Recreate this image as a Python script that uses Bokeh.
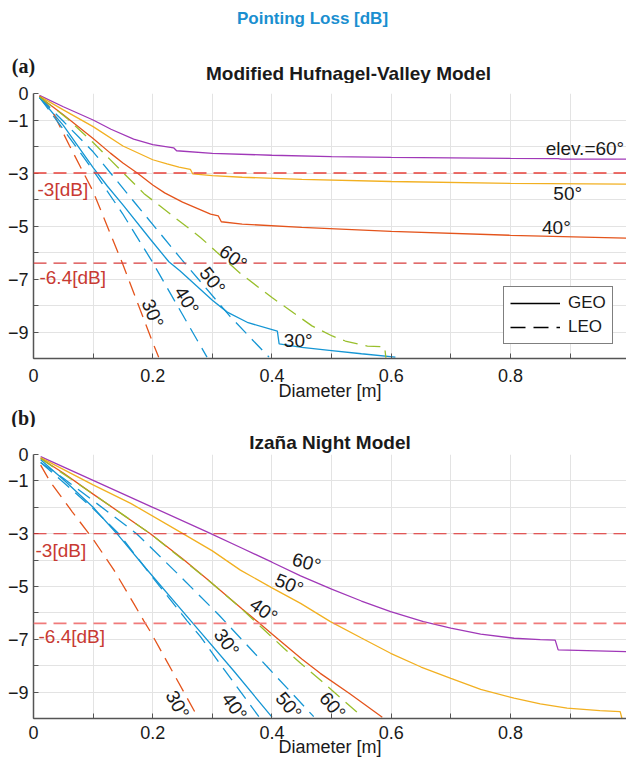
from bokeh.plotting import figure
from bokeh.models import Range1d, FixedTicker, Span, Label, Legend, LegendItem
from bokeh.layouts import column
from bokeh.embed import file_html
from bokeh.resources import INLINE

FONT = "Liberation Sans"
NAN = float("nan")

# ---------------- data: (a) Modified Hufnagel-Valley ----------------
hv_geo60_x = [0.01, 0.05, 0.10, 0.13, 0.168, 0.20, 0.235, 0.24, 0.30, 0.40, 0.50, 0.60, 0.70, 0.80, 0.88, 0.885, 0.995]
hv_geo60_y = [-0.07, -0.50, -1.00, -1.35, -1.72, -1.93, -2.05, -2.16, -2.26, -2.33, -2.38, -2.41, -2.43, -2.45, -2.46, -2.48, -2.48]
hv_geo50_x = [0.01, 0.05, 0.10, 0.15, 0.20, 0.224, 0.244, 0.263, 0.267, 0.30, 0.35, 0.45, 0.60, 0.80, 0.995]
hv_geo50_y = [-0.10, -0.62, -1.25, -1.98, -2.50, -2.66, -2.78, -2.86, -3.03, -3.10, -3.16, -3.24, -3.32, -3.39, -3.42]
hv_geo40_x = [0.01, 0.05, 0.10, 0.129, 0.15, 0.174, 0.20, 0.22, 0.25, 0.297, 0.31, 0.315, 0.35, 0.45, 0.60, 0.80, 0.995]
hv_geo40_y = [-0.12, -0.80, -1.70, -2.25, -2.62, -3.00, -3.45, -3.75, -4.10, -4.55, -4.62, -4.84, -4.93, -5.05, -5.20, -5.35, -5.46]
hv_geo30_x = [0.01, 0.05, 0.10, 0.124, 0.15, 0.196, 0.227, 0.246, 0.30, 0.325, 0.36, 0.409, 0.412, 0.45, 0.50, 0.55, 0.607]
hv_geo30_y = [-0.15, -1.20, -2.80, -3.50, -4.20, -5.50, -6.35, -6.70, -7.80, -8.25, -8.65, -8.97, -9.45, -9.58, -9.70, -9.82, -9.95]
hv_leo30_x = [0.01, 0.03, 0.06, 0.10, 0.149, 0.20, 0.21]
hv_leo30_y = [-0.10, -0.60, -1.95, -3.70, -6.40, -9.40, -9.95]
hv_leo40_x = [0.01, 0.05, 0.10, 0.149, 0.199, 0.258, 0.291]
hv_leo40_y = [-0.15, -1.35, -2.90, -4.52, -6.34, -8.66, -9.95]
hv_leo50_x = [0.01, 0.05, 0.10, 0.171, 0.249, 0.33, 0.395]
hv_leo50_y = [-0.15, -1.05, -2.20, -4.15, -6.28, -8.42, -9.95]
hv_leo60_x = [0.01, 0.056, 0.10, 0.185, 0.28, 0.347, 0.40, 0.467, 0.501, 0.523, 0.56, 0.589, 0.591]
hv_leo60_y = [-0.12, -0.93, -1.85, -3.77, -5.43, -6.79, -7.70, -8.77, -9.15, -9.34, -9.53, -9.56, -9.97]

# ---------------- data: (b) Izana Night ----------------
iz_geo60_x = [0.012, 0.10, 0.20, 0.291, 0.35, 0.40, 0.448, 0.50, 0.55, 0.599, 0.654, 0.70, 0.75, 0.806, 0.85, 0.875, 0.88, 0.995]
iz_geo60_y = [-0.08, -0.98, -2.00, -2.93, -3.55, -4.08, -4.60, -5.10, -5.55, -5.95, -6.33, -6.58, -6.80, -6.96, -7.01, -7.03, -7.40, -7.47]
iz_geo50_x = [0.012, 0.10, 0.163, 0.247, 0.30, 0.347, 0.40, 0.448, 0.498, 0.55, 0.599, 0.65, 0.70, 0.75, 0.806, 0.85, 0.895, 0.95, 0.984, 0.987]
iz_geo50_y = [-0.12, -1.15, -1.85, -2.95, -3.65, -4.38, -5.05, -5.64, -6.33, -6.95, -7.53, -8.05, -8.48, -8.90, -9.23, -9.45, -9.61, -9.70, -9.74, -10.0]
iz_geo40_x = [0.012, 0.05, 0.10, 0.15, 0.196, 0.25, 0.291, 0.35, 0.375, 0.40, 0.45, 0.481, 0.53, 0.585]
iz_geo40_y = [-0.15, -0.70, -1.50, -2.28, -3.00, -3.95, -4.72, -5.85, -6.32, -6.80, -7.75, -8.29, -9.05, -9.95]
iz_geo30_x = [0.012, 0.05, 0.10, 0.14, 0.188, 0.265, 0.336, 0.40]
iz_geo30_y = [-0.20, -0.95, -2.00, -3.00, -4.30, -6.33, -8.20, -9.95]
iz_leo30_x = [0.012, 0.028, 0.065, 0.101, 0.135, 0.168, 0.185, 0.196, 0.235, 0.275]
iz_leo30_y = [-0.40, -1.03, -2.17, -3.24, -4.38, -5.64, -6.30, -6.71, -8.30, -9.93]
iz_leo40_x = [0.012, 0.05, 0.10, 0.143, 0.199, 0.258, 0.28, 0.314, 0.378]
iz_leo40_y = [-0.30, -1.05, -2.05, -3.00, -4.63, -6.31, -6.90, -7.97, -9.93]
iz_leo50_x = [0.012, 0.05, 0.10, 0.173, 0.241, 0.311, 0.392, 0.47]
iz_leo50_y = [-0.30, -0.90, -1.75, -3.00, -4.50, -6.08, -8.04, -9.93]
iz_leo60_x = [0.012, 0.10, 0.196, 0.291, 0.347, 0.42, 0.448, 0.484, 0.551]
iz_leo60_y = [-0.15, -1.50, -3.00, -4.72, -5.80, -7.34, -7.91, -8.60, -9.93]

# ---------------- axes / reference levels ----------------
x_major = [0, 0.2, 0.4, 0.6, 0.8]
x_minor = [0.1, 0.3, 0.5, 0.7, 0.9]
y_major = [0, -1, -3, -5, -7, -9]
y_minor = [-2, -4, -6, -8, -10]
levels = [-3, -6.4]
level_labels = ["-3[dB]", "-6.4[dB]"]

BLUE = "#1596d4"
RED = "#e4541c"
YELLOW = "#f2b021"
PURPLE = "#a038b8"
GREEN = "#99bf2c"
AXC = "#555555"
GRID = "#e3e3e3"
DASH = "15 8"
TXT = "#1a1a1a"


def base_fig(height, top, bottom, tick_standoff, label_standoff):
    p = figure(width=626, height=height, x_range=Range1d(0, 0.9946), y_range=Range1d(-10, 0),
               output_backend="svg", toolbar_location=None,
               min_border_left=33, min_border_right=0, min_border_top=top, min_border_bottom=bottom)
    p.frame_align = False
    p.outline_line_color = None
    p.background_fill_color = "white"
    p.border_fill_color = "white"
    xt = FixedTicker(ticks=x_major, minor_ticks=x_minor)
    yt = FixedTicker(ticks=y_major, minor_ticks=y_minor)
    p.xaxis.ticker = xt
    p.yaxis.ticker = yt
    p.xgrid.ticker = xt
    p.ygrid.ticker = yt
    for g in (p.xgrid, p.ygrid):
        g.grid_line_color = GRID
        g.minor_grid_line_color = GRID
        g.grid_line_width = 1
        g.minor_grid_line_width = 1
    p.xaxis.major_label_overrides = {0: "0"}
    p.xaxis.axis_label = "Diameter [m]"
    for ax in (p.xaxis, p.yaxis):
        ax.axis_line_color = AXC
        ax.axis_line_width = 1.5
        ax.major_tick_line_color = AXC
        ax.minor_tick_line_color = AXC
        ax.major_tick_in = 5
        ax.major_tick_out = 0
        ax.minor_tick_in = 5
        ax.minor_tick_out = 0
        ax.major_label_text_font = FONT
        ax.major_label_text_font_size = "18px"
        ax.major_label_text_color = TXT
    p.yaxis.major_label_standoff = 5
    p.xaxis.major_label_standoff = tick_standoff
    p.xaxis.axis_label_text_font = FONT
    p.xaxis.axis_label_text_font_size = "18px"
    p.xaxis.axis_label_text_font_style = "normal"
    p.xaxis.axis_label_text_color = TXT
    p.xaxis.axis_label_standoff = label_standoff
    return p


def header(height):
    h = figure(width=626, height=height, x_range=Range1d(0, 626), y_range=Range1d(height, 0),
               output_backend="svg", toolbar_location=None, x_axis_type=None, y_axis_type=None,
               min_border_left=0, min_border_right=0, min_border_top=0, min_border_bottom=0)
    h.frame_align = False
    h.outline_line_color = None
    h.grid.visible = False
    h.background_fill_color = "white"
    h.border_fill_color = "white"
    return h


def txt(p, x, y, s, angle=0, size="19px", color=TXT, bold=False, align="center", font=FONT):
    p.add_layout(Label(x=x, y=y, text=s, angle=angle, angle_units="deg",
                       text_align=align, text_baseline="middle", text_font=font,
                       text_font_size=size, text_color=color,
                       text_font_style="bold" if bold else "normal"))


def curves(p, geo, leo):
    for (xs, ys, c) in geo:
        p.line(xs, ys, line_color=c, line_width=1.3)
    for (xs, ys, c) in leo:
        p.line(xs, ys, line_color=c, line_width=1.3, line_dash=DASH)


# ---------------- header (a) ----------------
ha = header(83)
txt(ha, 312, 18, "Pointing Loss [dB]", size="17px", color="#1a8fd0", bold=True)
txt(ha, 23, 65, "(a)", size="20px", bold=True, font="Liberation Serif")
txt(ha, 348, 73, "Modified Hufnagel-Valley Model", size="19px", bold=True)

# ---------------- panel (a) ----------------
pa = base_fig(321, 10, 46, 10, -4)
pa.add_layout(Span(location=levels[0], dimension="width", line_color="#e8403a", line_width=1.3, line_dash="13 7"))
pa.add_layout(Span(location=levels[1], dimension="width", line_color="#d83c3c", line_width=1.1, line_dash="13 7"))
curves(pa,
       [(hv_geo60_x, hv_geo60_y, PURPLE), (hv_geo50_x, hv_geo50_y, YELLOW),
        (hv_geo40_x, hv_geo40_y, RED), (hv_geo30_x, hv_geo30_y, BLUE)],
       [(hv_leo30_x, hv_leo30_y, RED), (hv_leo40_x, hv_leo40_y, BLUE),
        (hv_leo50_x, hv_leo50_y, BLUE), (hv_leo60_x, hv_leo60_y, GREEN)])

geo_r = pa.line(x=[NAN], y=[NAN], line_color="black", line_width=1.3)
leo_r = pa.line(x=[NAN], y=[NAN], line_color="black", line_width=1.3, line_dash=DASH)
leg = Legend(items=[LegendItem(label="GEO", renderers=[geo_r]), LegendItem(label="LEO", renderers=[leo_r])],
             location=(470, 14), border_line_color="black", border_line_width=1,
             background_fill_color="white", background_fill_alpha=1.0,
             label_text_font=FONT, label_text_font_size="17px", label_text_color=TXT,
             glyph_width=50, glyph_height=20, label_standoff=8, padding=6, spacing=4, margin=0)
pa.add_layout(leg)

txt(pa, 0.859, -2.09, "elev.=60°", align="left")
txt(pa, 0.896, -3.77, "50°")
txt(pa, 0.877, -5.06, "40°")
txt(pa, 0.444, -9.32, "30°")
txt(pa, 0.335, -6.19, "60°", angle=-37)
txt(pa, 0.300, -7.06, "50°", angle=-52)
txt(pa, 0.257, -7.81, "40°", angle=-58)
txt(pa, 0.200, -8.30, "30°", angle=-68)
txt(pa, 0.0067, -3.62, level_labels[0], color="#c83a32", align="left")
txt(pa, 0.010, -6.94, level_labels[1], color="#c83a32", align="left")

# ---------------- header (b) ----------------
hb = header(23)
txt(hb, 23, 13, "(b)", size="20px", bold=True, font="Liberation Serif")

# ---------------- panel (b) ----------------
pb = base_fig(333, 27, 42, 7, -5)
pb.title.text = "Izaña Night Model"
pb.title.align = "center"
pb.title.offset = 11
pb.title.standoff = 3
pb.title.text_font = FONT
pb.title.text_font_size = "19px"
pb.title.text_font_style = "bold"
pb.title.text_color = TXT
pb.add_layout(Span(location=levels[0], dimension="width", line_color="#e02a2a", line_width=1.1, line_dash="13 7"))
pb.add_layout(Span(location=levels[1], dimension="width", line_color="#f07a7a", line_width=1.8, line_dash="13 7"))
curves(pb,
       [(iz_geo60_x, iz_geo60_y, PURPLE), (iz_geo50_x, iz_geo50_y, YELLOW),
        (iz_geo40_x, iz_geo40_y, RED), (iz_geo30_x, iz_geo30_y, BLUE)],
       [(iz_leo30_x, iz_leo30_y, RED), (iz_leo40_x, iz_leo40_y, BLUE),
        (iz_leo50_x, iz_leo50_y, BLUE), (iz_leo60_x, iz_leo60_y, GREEN)])

txt(pb, 0.458, -4.09, "60°", angle=-15)
txt(pb, 0.429, -4.92, "50°", angle=-22)
txt(pb, 0.386, -5.91, "40°", angle=-35)
txt(pb, 0.324, -7.12, "30°", angle=-55)
txt(pb, 0.2415, -9.47, "30°", angle=-62)
txt(pb, 0.337, -9.55, "40°", angle=-55)
txt(pb, 0.428, -9.51, "50°", angle=-50)
txt(pb, 0.5015, -9.51, "60°", angle=-50)
txt(pb, 0.0034, -3.64, level_labels[0], color="#c83a32", align="left")
txt(pb, 0.0084, -6.89, level_labels[1], color="#c83a32", align="left")

layout = column(ha, pa, hb, pb, spacing=0)
with open("out.html", "w", encoding="utf-8") as f:
    f.write(file_html(layout, INLINE))
